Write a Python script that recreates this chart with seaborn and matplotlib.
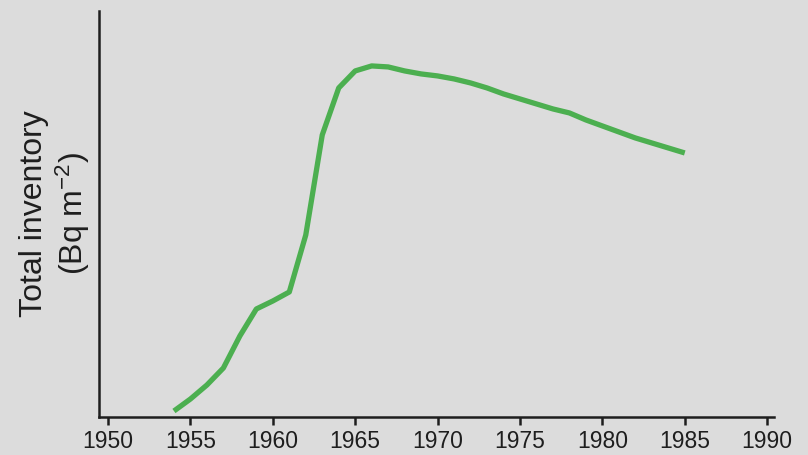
import matplotlib
matplotlib.use("Agg")
import matplotlib.pyplot as plt
import seaborn as sns
import pandas as pd

# Fallout inventory through time (relative units)
years = [1954, 1955, 1956, 1957, 1958, 1959, 1960, 1961, 1962, 1963, 1964,
         1965, 1966, 1967, 1968, 1969, 1970, 1971, 1972, 1973, 1974, 1975,
         1976, 1977, 1978, 1979, 1980, 1981, 1982, 1983, 1984, 1985]
inventory = [6, 18, 32, 49, 81, 108, 116, 125, 182, 282, 329,
             346, 351, 350, 346, 343, 341, 338, 334, 329, 323, 318,
             313, 308, 304, 297, 291, 285, 279, 274, 269, 264]
xticks = [1950, 1955, 1960, 1965, 1970, 1975, 1980, 1985, 1990]

BG = "#dcdcdc"
INK = "#1e1e1e"

sns.set_theme(style="ticks")
plt.rcParams["font.family"] = ["Liberation Sans", "DejaVu Sans"]
plt.rcParams["mathtext.fontset"] = "custom"
plt.rcParams["mathtext.rm"] = "Liberation Sans"
plt.rcParams["mathtext.it"] = "Liberation Sans:italic"
plt.rcParams["mathtext.default"] = "regular"

df = pd.DataFrame({"year": years, "inventory": inventory})

fig = plt.figure(figsize=(8.08, 4.55), dpi=100, facecolor=BG)
ax = fig.add_axes([0.1225, 0.0835, 0.958 - 0.1225, 0.976 - 0.0835])
ax.set_facecolor(BG)

sns.lineplot(data=df, x="year", y="inventory", ax=ax, color="#4caf50",
             linewidth=3.8, solid_capstyle="butt")

ax.set_xlim(1949.45, 1990.42)
ax.set_ylim(0, 406)
ax.set_xticks(xticks)
ax.set_xticklabels([str(t) for t in xticks], fontsize=16.5, color=INK)
ax.set_yticks([])

for side in ("top", "right"):
    ax.spines[side].set_visible(False)
for side in ("left", "bottom"):
    ax.spines[side].set_linewidth(1.8)
    ax.spines[side].set_color(INK)
ax.tick_params(axis="x", direction="out", length=6, width=1.8, color=INK, pad=3)

ax.set_xlabel("")
ax.set_ylabel("Total inventory\n(Bq m$^{-2}$)", fontsize=23, color=INK,
              linespacing=1.15, labelpad=5)

fig.savefig("out.png", dpi=100, facecolor=BG)
